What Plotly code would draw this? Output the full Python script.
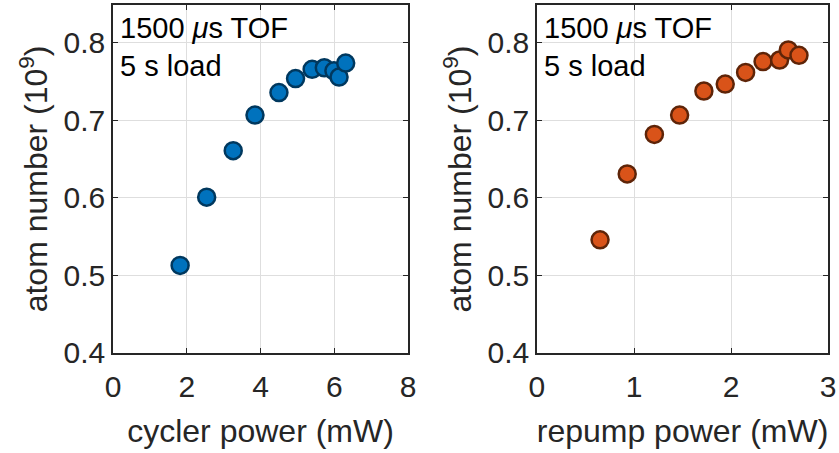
import plotly.graph_objects as go
from plotly.subplots import make_subplots

# cycler power scan (left panel)
cycler_power = [1.82, 2.54, 3.26, 3.85, 4.50, 4.95, 5.40, 5.73, 5.99, 6.13, 6.31]
cycler_atoms = [0.513, 0.601, 0.661, 0.707, 0.736, 0.754, 0.766, 0.768, 0.764, 0.756, 0.774]

# repump power scan (right panel)
repump_power = [0.65, 0.93, 1.21, 1.47, 1.72, 1.94, 2.15, 2.33, 2.50, 2.59, 2.70]
repump_atoms = [0.546, 0.631, 0.682, 0.707, 0.738, 0.747, 0.762, 0.776, 0.778, 0.791, 0.784]

FONT = "Liberation Sans, Arial, sans-serif"
AXIS_COLOR = "#262626"

fig = make_subplots(rows=1, cols=2)

fig.add_trace(go.Scatter(
    x=cycler_power, y=cycler_atoms, mode="markers",
    marker=dict(size=17, color="#0072BD", line=dict(color="#00385e", width=2.5)),
    showlegend=False), row=1, col=1)

fig.add_trace(go.Scatter(
    x=repump_power, y=repump_atoms, mode="markers",
    marker=dict(size=17, color="#D95319", line=dict(color="#5e2408", width=2.5)),
    showlegend=False), row=1, col=2)

axis_style = dict(
    showline=True, linecolor=AXIS_COLOR, linewidth=1.5, mirror="ticks",
    ticks="inside", ticklen=5, tickcolor=AXIS_COLOR,
    showgrid=True, gridcolor="#dedede", gridwidth=1, zeroline=False,
    automargin=False,
    tickfont=dict(family=FONT, size=30, color=AXIS_COLOR),
    title_font=dict(family=FONT, size=32, color=AXIS_COLOR),
)

fig.update_xaxes(ticklabelstandoff=6, **axis_style)
fig.update_yaxes(**axis_style)

fig.update_layout(
    xaxis=dict(domain=[0.1347, 0.4863], range=[0, 8], dtick=2,
               title=dict(text="cycler power (mW)", standoff=18)),
    xaxis2=dict(domain=[0.640, 0.987], range=[0, 3], dtick=1,
                title=dict(text="repump power (mW)", standoff=18)),
    yaxis=dict(domain=[0.2208, 0.989], range=[0.4, 0.849], dtick=0.1,
               tickformat=".1f", title=dict(text="atom number (10<sup>9</sup>)", standoff=6)),
    yaxis2=dict(domain=[0.2208, 0.989], range=[0.4, 0.849], dtick=0.1,
                tickformat=".1f", title=dict(text="atom number (10<sup>9</sup>)", standoff=6)),
    width=839, height=453,
    margin=dict(l=0, r=0, t=0, b=0),
    paper_bgcolor="white", plot_bgcolor="white",
    font=dict(family=FONT, color=AXIS_COLOR),
)

for xref, yref in [("x domain", "y domain"), ("x2 domain", "y2 domain")]:
    fig.add_annotation(text="1500 <i>μ</i>s TOF", xref=xref, yref=yref,
                       x=0.0, y=1.0, xanchor="left", yanchor="top", showarrow=False,
                       xshift=5, yshift=-5,
                       font=dict(family=FONT, size=29, color="black"))
    fig.add_annotation(text="5 s load", xref=xref, yref=yref,
                       x=0.0, y=0.89, xanchor="left", yanchor="top", showarrow=False,
                       xshift=5, yshift=-5,
                       font=dict(family=FONT, size=29, color="black"))

# drop the default page margin so the figure sits at the window's corner
fig.write_html("out.html", config={"displayModeBar": False},
               post_script="document.body.style.margin='0';")
